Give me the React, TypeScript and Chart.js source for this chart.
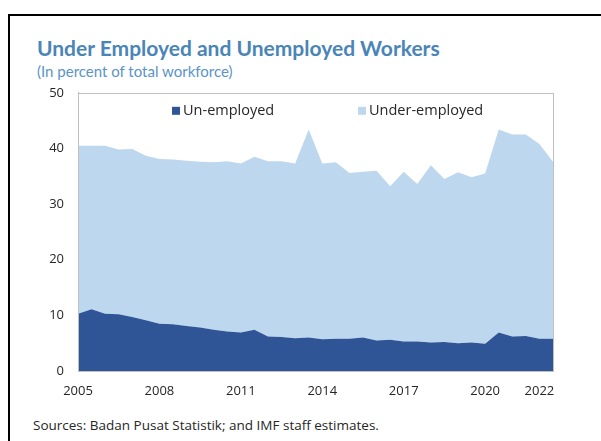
import React, { useEffect, useRef } from "react";
import { Chart, registerables } from "chart.js";

Chart.register(...registerables);

const periods = [
  "2005-H1", "2005-H2", "2006-H1", "2006-H2", "2007-H1", "2007-H2",
  "2008-H1", "2008-H2", "2009-H1", "2009-H2", "2010-H1", "2010-H2",
  "2011-H1", "2011-H2", "2012-H1", "2012-H2", "2013-H1", "2013-H2",
  "2014-H1", "2014-H2", "2015-H1", "2015-H2", "2016-H1", "2016-H2",
  "2017-H1", "2017-H2", "2018-H1", "2018-H2", "2019-H1", "2019-H2",
  "2020-H1", "2020-H2", "2021-H1", "2021-H2", "2022-H1", "2022-H2",
];

const tickYears = ["2005", "2008", "2011", "2014", "2017", "2020", "2022"];

const unemployed = [
  10.3, 11.1, 10.3, 10.2, 9.7, 9.1,
  8.5, 8.4, 8.1, 7.8, 7.4, 7.1,
  6.9, 7.4, 6.2, 6.1, 5.9, 6.0,
  5.7, 5.8, 5.8, 6.0, 5.5, 5.6,
  5.3, 5.3, 5.1, 5.2, 5.0, 5.1,
  4.9, 6.9, 6.2, 6.3, 5.8, 5.8,
];

const underemployed = [
  30.2, 29.4, 30.2, 29.6, 30.2, 29.6,
  29.6, 29.6, 29.7, 29.8, 30.1, 30.6,
  30.4, 31.1, 31.5, 31.6, 31.4, 37.4,
  31.6, 31.7, 29.8, 29.8, 30.5, 27.6,
  30.5, 28.3, 31.9, 29.3, 30.7, 29.7,
  30.6, 36.5, 36.3, 36.2, 35.0, 31.8,
];

const DARK = "#2F5597";
const LIGHT = "#BDD7EE";
const FONT = "'Open Sans', 'DejaVu Sans', sans-serif";

const legendXs = [152, 338];

const framePlugin = {
  id: "frame",
  afterDatasetsDraw(chart: any) {
    const { ctx, chartArea } = chart;
    ctx.save();
    ctx.strokeStyle = "#BFBFBF";
    ctx.lineWidth = 1;
    ctx.strokeRect(
      Math.round(chartArea.left) + 0.5,
      Math.round(chartArea.top) + 0.5,
      Math.round(chartArea.right - chartArea.left),
      Math.round(chartArea.bottom - chartArea.top)
    );
    ctx.restore();
  },
  afterDraw(chart: any) {
    const { ctx, chartArea } = chart;
    ctx.save();
    ctx.font = `14.5px ${FONT}`;
    ctx.textBaseline = "middle";
    chart.data.datasets.forEach((ds: any, i: number) => {
      const x = legendXs[i];
      const y = chartArea.top + 18;
      ctx.fillStyle = ds.backgroundColor;
      ctx.fillRect(x, y - 4, 8, 8);
      ctx.fillStyle = "#262626";
      ctx.fillText(ds.label, x + 11, y);
    });
    ctx.restore();
  },
};

export default function App() {
  const ref = useRef<HTMLCanvasElement | null>(null);

  useEffect(() => {
    if (!ref.current) return;
    const chart = new Chart(ref.current, {
      type: "line",
      data: {
        labels: periods,
        datasets: [
          {
            label: "Un-employed",
            data: unemployed,
            backgroundColor: DARK,
            borderColor: DARK,
            borderWidth: 0,
            pointRadius: 0,
            fill: "origin",
            tension: 0,
          },
          {
            label: "Under-employed",
            data: underemployed,
            backgroundColor: LIGHT,
            borderColor: LIGHT,
            borderWidth: 0,
            pointRadius: 0,
            fill: "-1",
            tension: 0,
          },
        ],
      },
      options: {
        responsive: false,
        animation: false,
        devicePixelRatio: 1,
        layout: { padding: { top: 8, right: 27, left: 0, bottom: 0 } },
        plugins: {
          legend: { display: false },
          tooltip: { enabled: false },
          title: { display: false },
        },
        scales: {
          x: {
            type: "category",
            offset: false,
            grid: { display: false, drawTicks: false },
            border: { display: true, color: "#BFBFBF" },
            ticks: {
              autoSkip: false,
              maxRotation: 0,
              padding: 12,
              color: "#262626",
              font: { family: FONT, size: 13 },
              callback: (_v: any, index: number) => {
                const [yr, h] = periods[index].split("-");
                return h === "H1" && tickYears.includes(yr) ? yr : "";
              },
            },
            afterFit: (scale: any) => {
              scale.height = 33;
            },
          },
          y: {
            stacked: true,
            min: 0,
            max: 50,
            grid: { display: false, drawTicks: false },
            border: { display: true, color: "#BFBFBF" },
            ticks: {
              stepSize: 10,
              padding: 14,
              color: "#262626",
              font: { family: FONT, size: 13 },
            },
            afterFit: (scale: any) => {
              scale.width = 58;
            },
          },
        },
      },
      plugins: [framePlugin],
    });
    return () => chart.destroy();
  }, []);

  return (
    <div
      style={{
        position: "fixed",
        left: 0,
        top: 0,
        width: 601,
        height: 441,
        overflow: "hidden",
        background: "#fff",
      }}
    >
      <div
        style={{
          position: "absolute",
          left: 8,
          top: 14,
          width: 700,
          height: 600,
          borderTop: "2px solid #000",
          borderLeft: "2px solid #000",
        }}
      />
      <div
        style={{
          position: "absolute",
          left: 37,
          top: 36,
          fontFamily: "Lato, 'Open Sans', sans-serif",
          fontWeight: 700,
          fontSize: 21,
          lineHeight: "24px",
          color: "#4A85B8",
          whiteSpace: "nowrap",
        }}
      >
        Under Employed and Unemployed Workers
      </div>
      <div
        style={{
          position: "absolute",
          left: 37,
          top: 62,
          fontFamily: "Lato, 'Open Sans', sans-serif",
          fontSize: 15,
          lineHeight: "18px",
          color: "#5B93C7",
          whiteSpace: "nowrap",
        }}
      >
        (In percent of total workforce)
      </div>
      <canvas
        ref={ref}
        width={560}
        height={333}
        style={{ position: "absolute", left: 20, top: 71, width: 560, height: 333 }}
      />
      <div
        style={{
          position: "absolute",
          left: 33,
          top: 416,
          fontFamily: "'Open Sans', sans-serif",
          fontSize: 13.5,
          lineHeight: "18px",
          color: "#262626",
          whiteSpace: "nowrap",
        }}
      >
        Sources: Badan Pusat Statistik; and IMF staff estimates.
      </div>
    </div>
  );
}
